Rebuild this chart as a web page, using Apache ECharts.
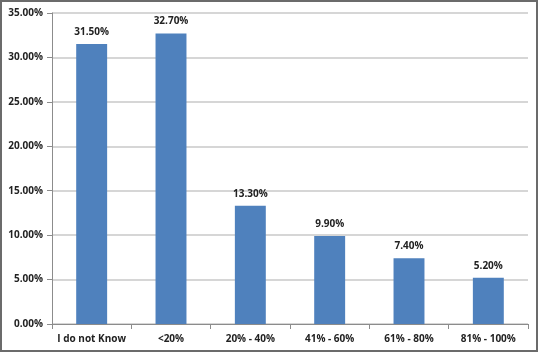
<!DOCTYPE html>
<html>
<head>
<meta charset="utf-8">
<script src="https://cdn.jsdelivr.net/npm/echarts@6/dist/echarts.min.js"></script>
<style>
  html, body { margin: 0; padding: 0; background: #fff; }
  #chart {
    width: 538px;
    height: 352px;
    box-sizing: border-box;
    border: 2px solid #6b6b6b;
  }
</style>
</head>
<body>
<div id="chart"></div>
<script>
var categories = ["I do not Know", "<20%", "20% - 40%", "41% - 60%", "61% - 80%", "81% - 100%"];
var values = [31.5, 32.7, 13.3, 9.9, 7.4, 5.2];
var yTicks = [0, 5, 10, 15, 20, 25, 30, 35];

var myChart = echarts.init(document.getElementById("chart"));
var option = {
  animation: false,
  grid: { left: 50, right: 8, top: 11, bottom: 26 },
  xAxis: {
    type: "category",
    data: categories,
    axisLine: { lineStyle: { color: "#8c8c8c", width: 1 } },
    axisTick: { show: true, length: 5, lineStyle: { color: "#8c8c8c" } },
    axisLabel: {
      color: "#222",
      fontFamily: "Open Sans",
      fontWeight: "bold",
      fontSize: 10,
      margin: 10,
      interval: 0
    }
  },
  yAxis: {
    type: "value",
    min: yTicks[0],
    max: yTicks[yTicks.length - 1],
    interval: 5,
    axisLine: { show: true, lineStyle: { color: "#8c8c8c", width: 1 } },
    axisTick: { show: true, length: 5, lineStyle: { color: "#8c8c8c" } },
    splitLine: { show: true, lineStyle: { color: "#c8c8c8", width: 1.5 } },
    axisLabel: {
      color: "#222",
      fontFamily: "Open Sans",
      fontWeight: "bold",
      fontSize: 10,
      margin: 9,
      formatter: function (v) { return v.toFixed(2) + "%"; }
    }
  },
  series: [
    {
      type: "bar",
      data: values,
      barWidth: "39%",
      itemStyle: { color: "#4f81bd" },
      label: {
        show: true,
        position: "top",
        distance: 7,
        color: "#222",
        fontFamily: "Open Sans",
        fontWeight: "bold",
        fontSize: 10,
        formatter: function (p) { return p.value.toFixed(2) + "%"; }
      }
    }
  ]
};
myChart.setOption(option);
</script>
</body>
</html>
